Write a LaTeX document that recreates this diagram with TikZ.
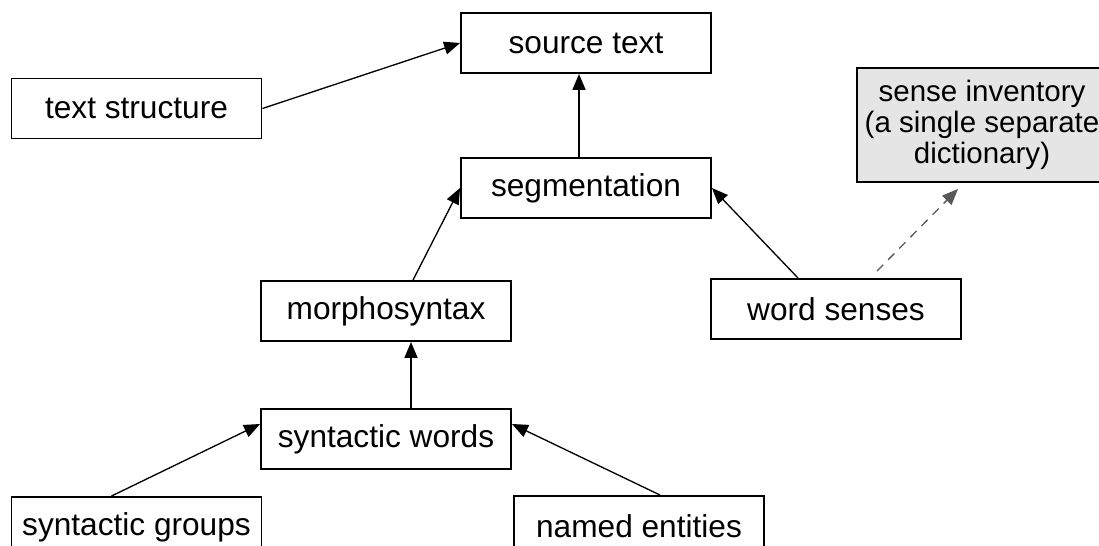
\documentclass[tikz,border=0pt]{standalone}
\usepackage{fontspec}
\setmainfont{Liberation Sans}
\usetikzlibrary{arrows.meta}

\begin{document}
\begin{tikzpicture}[align=center,
		box/.style={draw, line width=1.1pt, minimum width=5cm, minimum height=1.2cm, inner sep=0pt, font=\fontsize{18}{18.5}\selectfont},
		link/.style={line width=0.75pt, -{Triangle[length=0.32cm, width=0.26cm]}}]
		\useasboundingbox (0, 0) rectangle (21.98, -10.92);
		\node (source) at (11.72, -0.86) [box] {source text};
		\node (structure) at (2.73, -2.17) [box] {text structure};
		\node (segmentation) at (11.72, -3.76) [box] {segmentation};
		\node (inventory) at (19.64, -2.5) [box, fill=gray!20, minimum height=2.28cm, font=\fontsize{16.8}{17.5}\selectfont] {sense inventory\\(a single separate\\dictionary)};
		\node (morphosyntax) at (7.72, -6.22) [box] {morphosyntax};
		\node (senses) at (16.72, -6.18) [box] {word senses};
		\node (words) at (7.72, -8.78) [box] {syntactic words};
		\node (groups) at (2.73, -10.54) [box] {syntactic groups};
		\node (entities) at (12.78, -10.52) [box] {named entities};
		
		\draw[link] (structure.east) -- (source.west);
		\draw[link, line width=1pt] ([xshift=-0.14cm]segmentation.north) -- ([xshift=-0.14cm]source.south);
		\draw[link] ([xshift=0.54cm]morphosyntax.north) -- (segmentation.west);
		\draw[link] ([xshift=-0.76cm]senses.north) -- (segmentation.east);
		\draw[link, dash pattern=on 5pt off 4pt, draw=gray!70!black] ([xshift=0.82cm, yshift=0.14cm]senses.north) -- ([xshift=-0.48cm, yshift=-0.12cm]inventory.south);
		\draw[link, line width=1pt] ([xshift=0.5cm]words.north) -- ([xshift=0.5cm]morphosyntax.south);
		\draw[link] ([xshift=-0.5cm]groups.north) -- ([yshift=0.3cm]words.west);
		\draw[link] ([xshift=0.42cm]entities.north) -- ([yshift=0.3cm]words.east);
		
	\end{tikzpicture}
\end{document}
